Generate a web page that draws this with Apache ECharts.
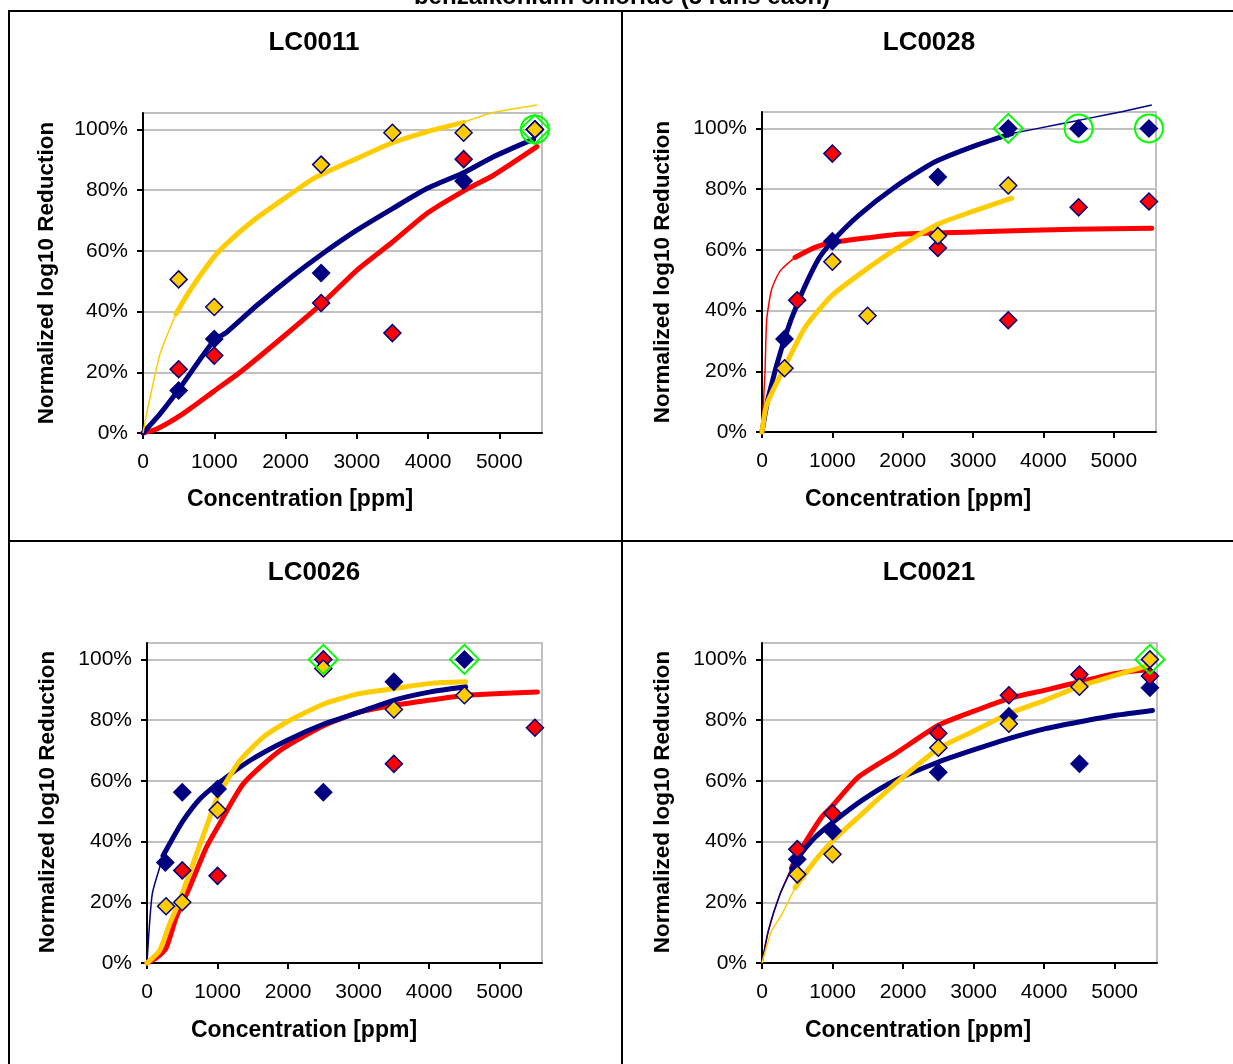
<!DOCTYPE html>
<html><head><meta charset="utf-8">
<script src="https://cdn.jsdelivr.net/npm/echarts@6/dist/echarts.min.js"></script>
<style>html,body{margin:0;padding:0;background:#fff}#c{width:1233px;height:1064px}</style>
</head><body><div id="c"></div><script>
// ---------- text ----------
const chartTitle = 'benzalkonium chloride (5 runs each)';
const panelTitles = ['LC0011', 'LC0028', 'LC0026', 'LC0021'];
const xAxisTitle = 'Concentration [ppm]';
const yAxisTitle = 'Normalized log10 Reduction';
const xTicks = [0, 1000, 2000, 3000, 4000, 5000];
const yTicks = [0, 0.2, 0.4, 0.6, 0.8, 1.0];

// ---------- measured points [ppm, normalized] ----------
const LC0011_navy = [[500,0.14],[1000,0.31],[2500,0.527],[4500,0.83],[5500,1.0]];
const LC0011_red = [[500,0.21],[1000,0.255],[2500,0.428],[3500,0.329],[4500,0.902],[5500,1.0]];
const LC0011_yellow = [[500,0.506],[1000,0.415],[2500,0.884],[3500,0.989],[4500,0.989],[5500,1.0]];
const LC0011_boxes = [[5500,1.0]];
const LC0011_rings = [[5500,1.0]];

const LC0028_navy = [[320,0.306],[1000,0.628],[2500,0.84],[3500,1.0],[4500,1.0],[5500,1.0]];
const LC0028_red = [[500,0.434],[1000,0.917],[2500,0.606],[3500,0.368],[4500,0.74],[5500,0.759]];
const LC0028_yellow = [[320,0.21],[1000,0.561],[1500,0.383],[2500,0.646],[3500,0.812]];
const LC0028_boxes = [[3500,1.0]];
const LC0028_rings = [[4500,1.0],[5500,1.0]];

const LC0026_navy = [[260,0.331],[500,0.562],[1000,0.573],[2500,0.562],[3500,0.926],[4500,1.0]];
const LC0026_red = [[500,0.305],[1000,0.287],[2500,1.0],[3500,0.656],[5500,0.775]];
const LC0026_yellow = [[270,0.187],[500,0.2],[1000,0.504],[2500,0.97],[3500,0.835],[4500,0.882]];
const LC0026_boxes = [[2500,1.0],[4500,1.0]];
const LC0026_rings = [];

const LC0021_navy = [[500,0.342],[1000,0.435],[2500,0.628],[3500,0.813],[4500,0.656],[5500,0.907]];
const LC0021_red = [[500,0.375],[1000,0.493],[2500,0.757],[3500,0.882],[4500,0.95],[5500,0.945]];
const LC0021_yellow = [[500,0.292],[1000,0.358],[2500,0.709],[3500,0.788],[4500,0.91],[5500,1.0]];
const LC0021_boxes = [[5500,1.0]];
const LC0021_rings = [];

// ---------- fitted curves ----------
const LC0011_navyFit = [[0,0],[239,0.063],[520,0.149],[997,0.305],[1175,0.332],[1596,0.42],[2111,0.519],[2509,0.589],[3001,0.668],[3502,0.739],[3984,0.805],[4522,0.86],[4920,0.91],[5389,0.959],[5482,0.967]];
const LC0011_redFit = [[0,0],[192,0.013],[520,0.057],[997,0.138],[1362,0.2],[2018,0.327],[2509,0.426],[3001,0.536],[3502,0.629],[3984,0.723],[4522,0.80],[4920,0.849],[5529,0.943]];
const LC0011_yellowFit = [[0,0],[70,0.085],[239,0.26],[463,0.393],[660,0.47],[997,0.58],[1175,0.624],[1550,0.70],[2018,0.778],[2392,0.838],[2954,0.899],[3502,0.956],[3984,0.992],[4500,1.023],[4874,1.053],[5529,1.08]];

const LC0028_navyFit = [[0,0],[90,0.115],[318,0.306],[517,0.431],[801,0.569],[1000,0.628],[1370,0.713],[1891,0.807],[2460,0.89],[3052,0.945],[3550,0.983],[4166,1.011],[4640,1.033],[5114,1.055],[5540,1.077]];
const LC0028_redFit = [[0,0],[43,0.2],[67,0.37],[137,0.47],[256,0.53],[469,0.575],[754,0.608],[1000,0.624],[1559,0.641],[1986,0.652],[3218,0.66],[4450,0.668],[5540,0.671]];
const LC0028_yellowFit = [[0,0],[67,0.091],[317,0.212],[611,0.344],[990,0.449],[1417,0.525],[1938,0.608],[2507,0.685],[3028,0.729],[3550,0.77]];

const LC0026_navyFit = [[0,0],[74,0.227],[201,0.331],[227,0.353],[370,0.413],[512,0.469],[749,0.54],[1000,0.59],[1460,0.667],[1981,0.733],[2517,0.788],[3024,0.827],[3507,0.866],[4019,0.893],[4517,0.91]];
const LC0026_redFit = [[0,0],[133,0.017],[272,0.05],[414,0.15],[603,0.249],[840,0.38],[1000,0.447],[1365,0.59],[1886,0.70],[2517,0.783],[3024,0.827],[3507,0.849],[4019,0.866],[4517,0.882],[5014,0.888],[5536,0.893]];
const LC0026_yellowFit = [[0,0],[177,0.04],[319,0.128],[461,0.205],[650,0.326],[840,0.447],[1000,0.546],[1318,0.667],[1649,0.744],[1981,0.794],[2517,0.854],[3024,0.888],[3507,0.904],[4019,0.921],[4517,0.926]];

const LC0021_navyFit = [[0,0],[90,0.106],[256,0.227],[422,0.31],[512,0.347],[749,0.413],[1000,0.463],[1412,0.535],[1886,0.601],[2502,0.662],[2976,0.70],[3498,0.739],[4019,0.772],[4493,0.794],[5014,0.816],[5536,0.832]];
const LC0021_redFit = [[0,0],[90,0.106],[256,0.227],[422,0.315],[512,0.358],[844,0.48],[1000,0.518],[1365,0.612],[1886,0.689],[2502,0.783],[2976,0.827],[3498,0.871],[4019,0.899],[4493,0.926],[5014,0.954],[5488,0.967]];
const LC0021_yellowFit = [[0,0],[137,0.106],[280,0.16],[469,0.248],[749,0.336],[1000,0.402],[1412,0.49],[1886,0.59],[2502,0.706],[2976,0.761],[3498,0.821],[4019,0.866],[4493,0.91],[5014,0.948],[5488,0.981]];

// ---------- assembly ----------
const panels = [
  {navy: LC0011_navy, red: LC0011_red, yellow: LC0011_yellow, navyFit: LC0011_navyFit, redFit: LC0011_redFit, yellowFit: LC0011_yellowFit, boxes: LC0011_boxes, rings: LC0011_rings},
  {navy: LC0028_navy, red: LC0028_red, yellow: LC0028_yellow, navyFit: LC0028_navyFit, redFit: LC0028_redFit, yellowFit: LC0028_yellowFit, boxes: LC0028_boxes, rings: LC0028_rings},
  {navy: LC0026_navy, red: LC0026_red, yellow: LC0026_yellow, navyFit: LC0026_navyFit, redFit: LC0026_redFit, yellowFit: LC0026_yellowFit, boxes: LC0026_boxes, rings: LC0026_rings},
  {navy: LC0021_navy, red: LC0021_red, yellow: LC0021_yellow, navyFit: LC0021_navyFit, redFit: LC0021_redFit, yellowFit: LC0021_yellowFit, boxes: LC0021_boxes, rings: LC0021_rings}
];

// layout / style (pixels)
const layout = [
  {grid: {left: 143, top: 113, width: 399, height: 320}, title: [314, 43], yName: [47, 273], xName: [300, 500],
   thick: {navy: [0, 1e9], red: [0, 1e9], yellow: [463, 4500]}},
  {grid: {left: 762, top: 112, width: 394, height: 320}, title: [929, 43], yName: [663, 272], xName: [918, 500],
   thick: {navy: [0, 3550], red: [469, 1e9], yellow: [0, 1e9]}},
  {grid: {left: 147, top: 643, width: 395, height: 320}, title: [314, 573], yName: [48, 802], xName: [304, 1031],
   thick: {navy: [227, 1e9], red: [0, 1e9], yellow: [0, 1e9]}},
  {grid: {left: 762, top: 643, width: 395, height: 320}, title: [929, 573], yName: [663, 802], xName: [918, 1031],
   thick: {navy: [422, 1e9], red: [422, 1e9], yellow: [469, 1e9]}}
];
const COL = {navy: '#000080', red: '#FF0000', yellow: '#FFCC00'};
const FONT = '"Liberation Sans", Arial, sans-serif';

const grids = [], xAxes = [], yAxes = [], series = [], graphics = [];

layout.forEach((L, i) => {
  grids.push(Object.assign({show: true, borderColor: '#C0C0C0', borderWidth: 2, backgroundColor: 'transparent', containLabel: false}, L.grid));
  xAxes.push({
    type: 'value', gridIndex: i, min: 0, max: 5600, interval: 1000,
    axisLine: {show: true, onZero: false, lineStyle: {color: '#000', width: 2}},
    axisTick: {show: true, inside: false, length: 6, lineStyle: {color: '#000', width: 2}, customValues: xTicks},
    axisLabel: {show: true, color: '#000', fontSize: 21, fontFamily: FONT, margin: 19, customValues: xTicks,
                formatter: v => String(v)},
    splitLine: {show: false}
  });
  yAxes.push({
    type: 'value', gridIndex: i, min: 0, max: 1.054, interval: 0.2,
    axisLine: {show: true, onZero: false, lineStyle: {color: '#000', width: 2}},
    axisTick: {show: true, inside: false, length: 6, lineStyle: {color: '#000', width: 2}, customValues: yTicks},
    axisLabel: {show: true, color: '#000', fontSize: 21, fontFamily: FONT, margin: 15, customValues: yTicks,
                formatter: v => Math.round(v * 100) + '%'},
    splitLine: {show: true, lineStyle: {color: '#C0C0C0', width: 2}}
  });

  const P = panels[i];
  // fitted lines: red, navy, yellow (yellow on top)
  ['red', 'navy', 'yellow'].forEach((k, j) => {
    const pts = P[k + 'Fit'];
    const r = L.thick[k];
    const before = pts.filter(p => p[0] <= r[0]);
    const mid = pts.filter(p => p[0] >= r[0] && p[0] <= r[1]);
    const after = pts.filter(p => p[0] >= r[1]);
    const base = {type: 'line', xAxisIndex: i, yAxisIndex: i, symbol: 'none', showSymbol: false, silent: true,
                  clip: false, smooth: 0.2, animation: false};
    if (before.length > 1) series.push(Object.assign({}, base, {data: before, z: 2 + j, lineStyle: {color: COL[k], width: 1.5}}));
    if (after.length > 1) series.push(Object.assign({}, base, {data: after, z: 2 + j, lineStyle: {color: COL[k], width: 1.5}}));
    if (mid.length > 1) series.push(Object.assign({}, base, {data: mid, z: 3 + j, lineStyle: {color: COL[k], width: 5, cap: 'round', join: 'round'}}));
  });
  // markers
  series.push({type: 'scatter', xAxisIndex: i, yAxisIndex: i, data: P.navy, symbol: 'diamond', symbolSize: 19, z: 10,
               itemStyle: {color: COL.navy, borderColor: COL.navy, borderWidth: 0, opacity: 1}, silent: true});
  series.push({type: 'scatter', xAxisIndex: i, yAxisIndex: i, data: P.red, symbol: 'diamond', symbolSize: 17, z: 11,
               itemStyle: {color: COL.red, borderColor: COL.navy, borderWidth: 1.5, opacity: 1}, silent: true});
  series.push({type: 'scatter', xAxisIndex: i, yAxisIndex: i, data: P.yellow, symbol: 'diamond', symbolSize: 17, z: 12,
               itemStyle: {color: COL.yellow, borderColor: COL.navy, borderWidth: 1.5, opacity: 1}, silent: true});
  if (P.boxes.length) series.push({type: 'scatter', xAxisIndex: i, yAxisIndex: i, data: P.boxes, symbol: 'diamond', symbolSize: 29, z: 13,
               itemStyle: {color: 'rgba(0,0,0,0)', borderColor: '#00FF00', borderWidth: 2, opacity: 1}, silent: true});
  if (P.rings.length) series.push({type: 'scatter', xAxisIndex: i, yAxisIndex: i, data: P.rings, symbol: 'circle', symbolSize: 28, z: 13,
               itemStyle: {color: 'rgba(0,0,0,0)', borderColor: '#00FF00', borderWidth: 2, opacity: 1}, silent: true});

  // texts
  graphics.push({type: 'text', x: L.title[0], y: L.title[1], style: {text: panelTitles[i], fill: '#000', font: 'bold 26px ' + FONT, textAlign: 'center', textVerticalAlign: 'middle'}});
  graphics.push({type: 'text', x: L.xName[0], y: L.xName[1], style: {text: xAxisTitle, fill: '#000', font: 'bold 23px ' + FONT, textAlign: 'center', textVerticalAlign: 'middle'}});
  graphics.push({type: 'text', x: L.yName[0], y: L.yName[1], rotation: Math.PI / 2, style: {text: yAxisTitle, fill: '#000', font: 'bold 22.5px ' + FONT, textAlign: 'center', textVerticalAlign: 'middle'}});
});

// frame
graphics.push({type: 'rect', shape: {x: 9, y: 11, width: 1240, height: 1070}, style: {fill: 'none', stroke: '#000', lineWidth: 2}, z: 0});
graphics.push({type: 'line', shape: {x1: 622, y1: 11, x2: 622, y2: 1070}, style: {stroke: '#000', lineWidth: 2}});
graphics.push({type: 'line', shape: {x1: 9, y1: 541, x2: 1240, y2: 541}, style: {stroke: '#000', lineWidth: 2}});
// clipped main title
graphics.push({type: 'text', x: 622, y: -3, style: {text: chartTitle, fill: '#000', font: 'bold 24px ' + FONT, textAlign: 'center', textVerticalAlign: 'middle'}});

const chart = echarts.init(document.getElementById('c'), null, {renderer: 'canvas'});
chart.setOption({
  animation: false,
  backgroundColor: '#fff',
  grid: grids, xAxis: xAxes, yAxis: yAxes, series: series,
  graphic: graphics
});
</script></body></html>
